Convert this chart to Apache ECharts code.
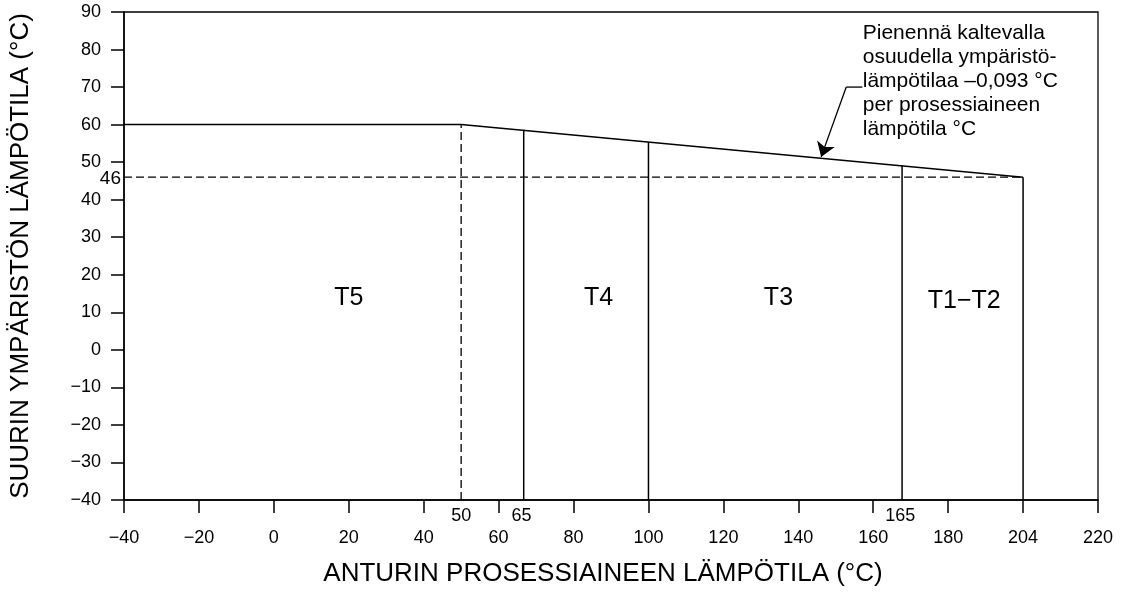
<!DOCTYPE html>
<html>
<head>
<meta charset="utf-8">
<script src="https://cdn.jsdelivr.net/npm/echarts@6/dist/echarts.min.js"></script>
<style>html,body{margin:0;padding:0;background:#fff}#c{width:1122px;height:593px}</style>
</head>
<body>
<div id="c"></div>
<script>
// ---- data ----
const xMin = -40, xMax = 220, xStep = 20;
const xTickLabels = ['−40','−20','0','20','40','60','80','100','120','140','160','180','204','220'];
const yMin = -40, yMax = 90, yStep = 10;
const yTickLabels = ['−40','−30','−20','−10','0','10','20','30','40','50','60','70','80','90'];

// maximum ambient limit curve (x as drawn, y)
const limitX = [-40, 50, 200];
const limitY = [60, 60, 46];

// zone boundaries (solid verticals), x as drawn and the height where they meet the limit line
const zoneX = [66.7, 100, 167.7];
const zoneTopY = [58.6, 55.4, 49.1];

// right end vertical (labelled 204)
const endX = 200, endY = 46;

// dashed reference lines
const dashVX = 50, dashVTop = 60;
const dashHY = 46;

// extra axis markers
const markerX = [50, 66.1, 167.2];
const markerText = ['50', '65', '165'];
const refYLabel = '46';

// zone names
const zoneNames = ['T5', 'T4', 'T3', 'T1−T2'];
const zoneLabelX = [20, 86.7, 134.7, 184.3];
const zoneLabelY = [13.8, 13.8, 13.8, 13.0];

// annotation
const noteText = 'Pienennä kaltevalla\nosuudella ympäristö-\nlämpötilaa –0,093 °C\nper prosessiaineen\nlämpötila °C';
const notePos = [157.2, 87.6];
const leaderX = [157.1, 152.8, 146.1];
const leaderY = [70.0, 70.0, 51.4];

// ---- chart ----
const FONT = 'Liberation Sans';
const solid = {color: '#000', width: 1.5, type: 'solid'};
const dashed = {color: '#000', width: 1.3, type: [8, 4]};

function seg(pts, style) {
  return {type: 'line', data: pts, symbol: 'none', lineStyle: style, silent: true, clip: false, animation: false, z: 3};
}

// text placed through the chart's own coordinate system
function textSeries(points, texts, st) {
  return {
    type: 'custom', coordinateSystem: 'cartesian2d', silent: true, animation: false, clip: false, z: 5,
    encode: {x: 0, y: 1},
    data: points,
    renderItem: function (params, api) {
      const p = api.coord([api.value(0), api.value(1)]);
      return {
        type: 'text', x: p[0] + (st.dx || 0), y: p[1] + (st.dy || 0), silent: true,
        style: {
          text: texts[params.dataIndex], fill: '#000',
          font: st.size + 'px "' + FONT + '"',
          align: st.align, verticalAlign: st.valign, lineHeight: st.lineHeight
        }
      };
    }
  };
}

const series = [];
series.push(seg(limitX.map((x, i) => [x, limitY[i]]), solid));
zoneX.forEach((x, i) => series.push(seg([[x, yMin], [x, zoneTopY[i]]], solid)));
series.push(seg([[endX, endY], [endX, yMin]], solid));
series.push(seg([[dashVX, yMin], [dashVX, dashVTop]], dashed));
series.push(seg([[xMin, dashHY], [endX, dashHY]], dashed));

// marker labels under the axis
series.push(textSeries(markerX.map(x => [x, yMin]), markerText,
  {size: 18, align: 'center', valign: 'middle', dy: 16}));
// 46 label at the y axis
series.push(textSeries([[xMin, dashHY]], [refYLabel],
  {size: 19, align: 'right', valign: 'middle', dx: -3, dy: 2}));
// zone names
series.push(textSeries(zoneNames.map((n, i) => [zoneLabelX[i], zoneLabelY[i]]), zoneNames,
  {size: 25, align: 'center', valign: 'middle'}));
// annotation text
series.push(textSeries([notePos], [noteText],
  {size: 21, align: 'left', valign: 'top', lineHeight: 24}));
// leader: short horizontal part + arrow segment
series.push(seg([[leaderX[0], leaderY[0]], [leaderX[1], leaderY[1]]], {color: '#000', width: 1.3}));
series.push({
  type: 'lines', coordinateSystem: 'cartesian2d', silent: true, animation: false, z: 4,
  data: [{coords: [[leaderX[1], leaderY[1]], [leaderX[2], leaderY[2]]]}],
  symbol: ['none', 'arrow'], symbolSize: [6, 14],
  itemStyle: {color: '#000'},
  lineStyle: {color: '#000', width: 1.3, opacity: 1, curveness: 0}
});

const chart = echarts.init(document.getElementById('c'), null, {renderer: 'canvas'});
chart.setOption({
  animation: false,
  backgroundColor: '#fff',
  grid: {left: 120, right: 24, top: 12, bottom: 93, show: true, borderColor: '#000', borderWidth: 1.3},
  xAxis: {
    type: 'value', min: xMin, max: xMax, interval: xStep,
    name: 'ANTURIN PROSESSIAINEEN LÄMPÖTILA (°C)', nameLocation: 'middle', nameGap: 61,
    nameTextStyle: {color: '#000', fontFamily: FONT, fontSize: 26, padding: [0, 16, 0, 0]},
    axisLine: {onZero: false, lineStyle: {color: '#000', width: 1.5}},
    axisTick: {show: true, length: 13, inside: false, lineStyle: {color: '#000', width: 1.5}},
    axisLabel: {margin: 29, color: '#000', fontFamily: FONT, fontSize: 18,
                formatter: v => xTickLabels[Math.round((v - xMin) / xStep)]},
    splitLine: {show: false}
  },
  yAxis: {
    type: 'value', min: yMin, max: yMax, interval: yStep,
    name: 'SUURIN YMPÄRISTÖN LÄMPÖTILA (°C)', nameLocation: 'middle', nameGap: 90,
    nameTextStyle: {color: '#000', fontFamily: FONT, fontSize: 26},
    axisLine: {onZero: false, lineStyle: {color: '#000', width: 1.5}},
    axisTick: {show: true, length: 13, inside: false, lineStyle: {color: '#000', width: 1.5}},
    axisLabel: {margin: 23, color: '#000', fontFamily: FONT, fontSize: 18,
                formatter: v => yTickLabels[Math.round((v - yMin) / yStep)]},
    splitLine: {show: false}
  },
  series: series
});
</script>
</body>
</html>
